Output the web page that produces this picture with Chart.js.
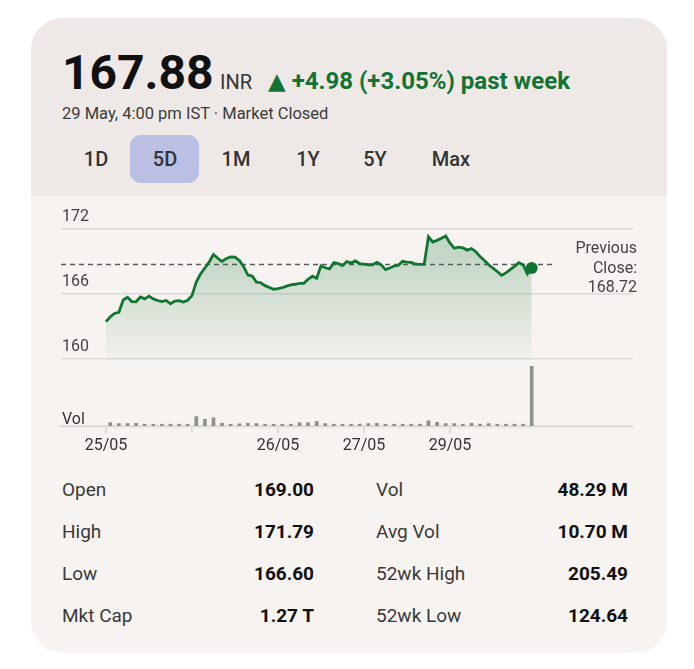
<!DOCTYPE html>
<html>
<head>
<meta charset="utf-8">
<script src="https://cdn.jsdelivr.net/npm/chart.js@4.4.1/dist/chart.umd.min.js"></script>
<style>
  body { margin: 0; background: #ffffff; font-family: Roboto, "Noto Sans", sans-serif; width: 694px; height: 669px; position: relative; overflow: hidden; }
  .card { position: absolute; left: 31px; top: 18px; width: 636px; height: 635px; border-radius: 32px; overflow: hidden; background: #f6f3f0; }
  .card .head { position: absolute; left: 0; top: 0; width: 100%; height: 178px; background: #eee9e6; }
  .t { position: absolute; line-height: 1; white-space: nowrap; }
  .price { left: 62px; top: 49px; font-size: 48px; font-weight: 700; color: #111; }
  .cur { left: 220px; top: 72px; font-size: 20px; color: #333; }
  .chg { left: 268px; top: 69px; font-size: 24px; font-weight: 700; color: #137333; }
  .chg .tri { font-family: "DejaVu Sans", sans-serif; font-size: 23px; }
  .date { left: 62px; top: 106px; font-size: 16.5px; color: #3a3a3a; }
  .tabsel { position: absolute; left: 130px; top: 135px; width: 69px; height: 48px; border-radius: 11px; background: #b9c0e3; }
  .tab { position: absolute; top: 149px; width: 70px; margin-left: -35px; text-align: center; font-size: 20px; font-weight: 500; color: #333; line-height: 1; }
  .pc { right: 57px; font-size: 16px; color: #444; text-align: right; }
  .lbl { font-size: 19px; color: #3a3a3a; }
  .val { font-size: 19px; font-weight: 700; color: #111; text-align: right; }
  #wrap { position: absolute; left: 0; top: 196px; width: 694px; height: 270px; }
</style>
</head>
<body>
<div class="card"><div class="head"></div></div>

<div class="t price">167.88</div>
<div class="t cur">INR</div>
<div class="t chg"><span class="tri">▲</span> +4.98 (+3.05%) past week</div>
<div class="t date">29 May, 4:00 pm IST · Market Closed</div>

<div class="tabsel"></div>
<div class="tab" style="left:96px">1D</div>
<div class="tab" style="left:165px">5D</div>
<div class="tab" style="left:236px">1M</div>
<div class="tab" style="left:308px">1Y</div>
<div class="tab" style="left:375px">5Y</div>
<div class="tab" style="left:451px">Max</div>

<div id="wrap"><canvas id="chart" width="694" height="270"></canvas></div>

<div class="t pc" style="top:240px">Previous</div>
<div class="t pc" style="top:260px">Close:</div>
<div class="t pc" style="top:279px">168.72</div>

<div class="t lbl" style="left:62px;top:480px">Open</div>
<div class="t val" style="right:380px;top:480px">169.00</div>
<div class="t lbl" style="left:376px;top:480px">Vol</div>
<div class="t val" style="right:66px;top:480px">48.29 M</div>

<div class="t lbl" style="left:62px;top:522px">High</div>
<div class="t val" style="right:380px;top:522px">171.79</div>
<div class="t lbl" style="left:376px;top:522px">Avg Vol</div>
<div class="t val" style="right:66px;top:522px">10.70 M</div>

<div class="t lbl" style="left:62px;top:564px">Low</div>
<div class="t val" style="right:380px;top:564px">166.60</div>
<div class="t lbl" style="left:376px;top:564px">52wk High</div>
<div class="t val" style="right:66px;top:564px">205.49</div>

<div class="t lbl" style="left:62px;top:606px">Mkt Cap</div>
<div class="t val" style="right:380px;top:606px">1.27 T</div>
<div class="t lbl" style="left:376px;top:606px">52wk Low</div>
<div class="t val" style="right:66px;top:606px">124.64</div>

<script>
// day labels under the ticks (one tick per trading day)
const dayLabels = ['25/05', '', '26/05', '27/05', '29/05'];

// price, one value every 0.05 day
const priceValues = [
  163.45, 163.9, 164.2, 164.3, 165.45, 165.7, 165.3, 165.28, 165.72, 165.55,
  165.8, 165.55, 165.4, 165.3, 165.4, 165.1, 165.35, 165.38, 165.25, 165.42,
  165.85, 167.1, 167.85, 168.4, 168.95, 169.65, 169.3, 169.0, 169.28, 169.42,
  169.4, 169.1, 168.55, 167.75, 167.66, 167.1, 167.04, 166.77, 166.6, 166.44,
  166.5, 166.58, 166.72, 166.85, 166.9, 166.98, 166.98, 167.36, 167.64, 167.45,
  168.6, 168.42, 168.32, 168.9, 168.8, 168.62, 169.0, 168.85, 169.05, 168.8,
  168.76, 168.7, 168.7, 168.92, 168.7, 168.25, 168.4, 168.58, 168.65, 169.02,
  168.95, 168.92, 168.75, 168.74, 168.74, 171.28, 170.8, 170.95, 171.15, 171.35,
  170.7, 170.22, 170.33, 170.25, 170.05, 170.2, 169.9, 169.45, 169.1, 168.7,
  168.38, 168.08, 167.72, 167.95, 168.25, 168.55, 168.9, 168.7, 167.85, 168.4
];
const priceStep = 0.05;

// volume (millions), one bar every 0.1 day
const volumeValues = [
  1.1, 0.8, 0.8, 0.9, 0.6, 0.6, 0.6, 0.6, 0.6, 0.6,
  3.1, 2.2, 2.7, 0.9, 0.6, 0.7, 0.9, 0.8, 0.6, 0.6,
  0.6, 0.6, 1.1, 1.1, 1.5, 0.8, 0.6, 0.6, 0.6, 0.6,
  0.8, 0.9, 0.6, 0.6, 0.6, 0.6, 0.6, 1.7, 1.2, 0.8,
  0.8, 0.6, 0.9, 0.6, 0.8, 0.6, 0.6, 0.6, 0.6, 19.6
];
const volumeStep = 0.1;

const previousClose = 168.72;
const priceTicks = [160, 166, 172];

const xMin = -0.523, xMax = 6.128;
const green = '#107530';

const pricePoints = priceValues.map((v, i) => ({ x: i * priceStep, y: v }));
const lastPoint = pricePoints[pricePoints.length - 1];

const ctx = document.getElementById('chart').getContext('2d');
const chart = new Chart(ctx, {
  type: 'line',
  data: {
    datasets: [
      {
        label: 'Last',
        data: [lastPoint],
        yAxisID: 'y',
        showLine: false,
        pointRadius: 6,
        pointBackgroundColor: green,
        pointBorderWidth: 0,
        order: 0
      },
      {
        label: 'Price',
        data: pricePoints,
        yAxisID: 'y',
        borderColor: green,
        borderWidth: 2.8,
        pointRadius: 0,
        tension: 0,
        fill: 'start',
        backgroundColor: function (c) {
          const ch = c.chart;
          const ya = ch.scales.y;
          if (!ch.chartArea || !ya) return 'rgba(19,115,51,0.15)';
          const g = ch.ctx.createLinearGradient(0, ya.getPixelForValue(169.5), 0, ya.getPixelForValue(160));
          g.addColorStop(0, 'rgba(19,115,51,0.22)');
          g.addColorStop(1, 'rgba(19,115,51,0.02)');
          return g;
        },
        order: 1
      },
      {
        label: 'Previous close',
        data: [{ x: xMin, y: previousClose }, { x: 5.19, y: previousClose }],
        yAxisID: 'y',
        borderColor: '#5c5c5c',
        borderWidth: 1.5,
        borderDash: [5, 4],
        pointRadius: 0,
        fill: false,
        order: 2
      },
      {
        type: 'bar',
        label: 'Volume',
        data: volumeValues.map((v, i) => ({ x: i * volumeStep + volumeStep / 2, y: v })),
        yAxisID: 'yv',
        backgroundColor: '#8c918c',
        barThickness: 3,
        order: 3
      }
    ]
  },
  options: {
    responsive: false,
    animation: false,
    layout: { padding: { left: 61, right: 61, top: 33, bottom: 0 } },
    plugins: { legend: { display: false }, tooltip: { enabled: false } },
    scales: {
      x: {
        type: 'linear',
        offset: false,
        min: xMin,
        max: xMax,
        afterBuildTicks: s => { s.ticks = dayLabels.map((_, i) => ({ value: i })); },
        afterFit: s => { s.height = 40; },
        ticks: {
          callback: v => dayLabels[v] ?? '',
          color: '#333',
          font: { family: 'Roboto', size: 16 },
          padding: 3,
          maxRotation: 0,
          autoSkip: false
        },
        grid: { offset: false, drawOnChartArea: false, drawTicks: true, tickLength: 7, color: '#d9d6d3', lineWidth: 1.5 },
        border: { display: true, color: '#dfdcd9', width: 2.5 }
      },
      y: {
        type: 'linear',
        stack: 'main',
        stackWeight: 130,
        weight: 1,
        min: 160,
        max: 172,
        afterBuildTicks: s => { s.ticks = priceTicks.map(v => ({ value: v })); },
        afterFit: s => { s.width = 0; },
        ticks: { mirror: true, padding: 1, labelOffset: -12, color: '#444', font: { family: 'Roboto', size: 16 } },
        grid: { color: '#dcdad7', lineWidth: 1.5, drawTicks: false },
        border: { display: false }
      },
      yv: {
        type: 'linear',
        stack: 'main',
        stackWeight: 67,
        weight: 0,
        min: 0,
        max: 22,
        afterBuildTicks: s => { s.ticks = [{ value: 0 }]; },
        afterFit: s => { s.width = 0; },
        ticks: { mirror: true, padding: 1, labelOffset: -6, callback: () => 'Vol', color: '#333', font: { family: 'Roboto', size: 16 } },
        grid: { display: false },
        border: { display: false }
      }
    }
  }
});
</script>
</body>
</html>
